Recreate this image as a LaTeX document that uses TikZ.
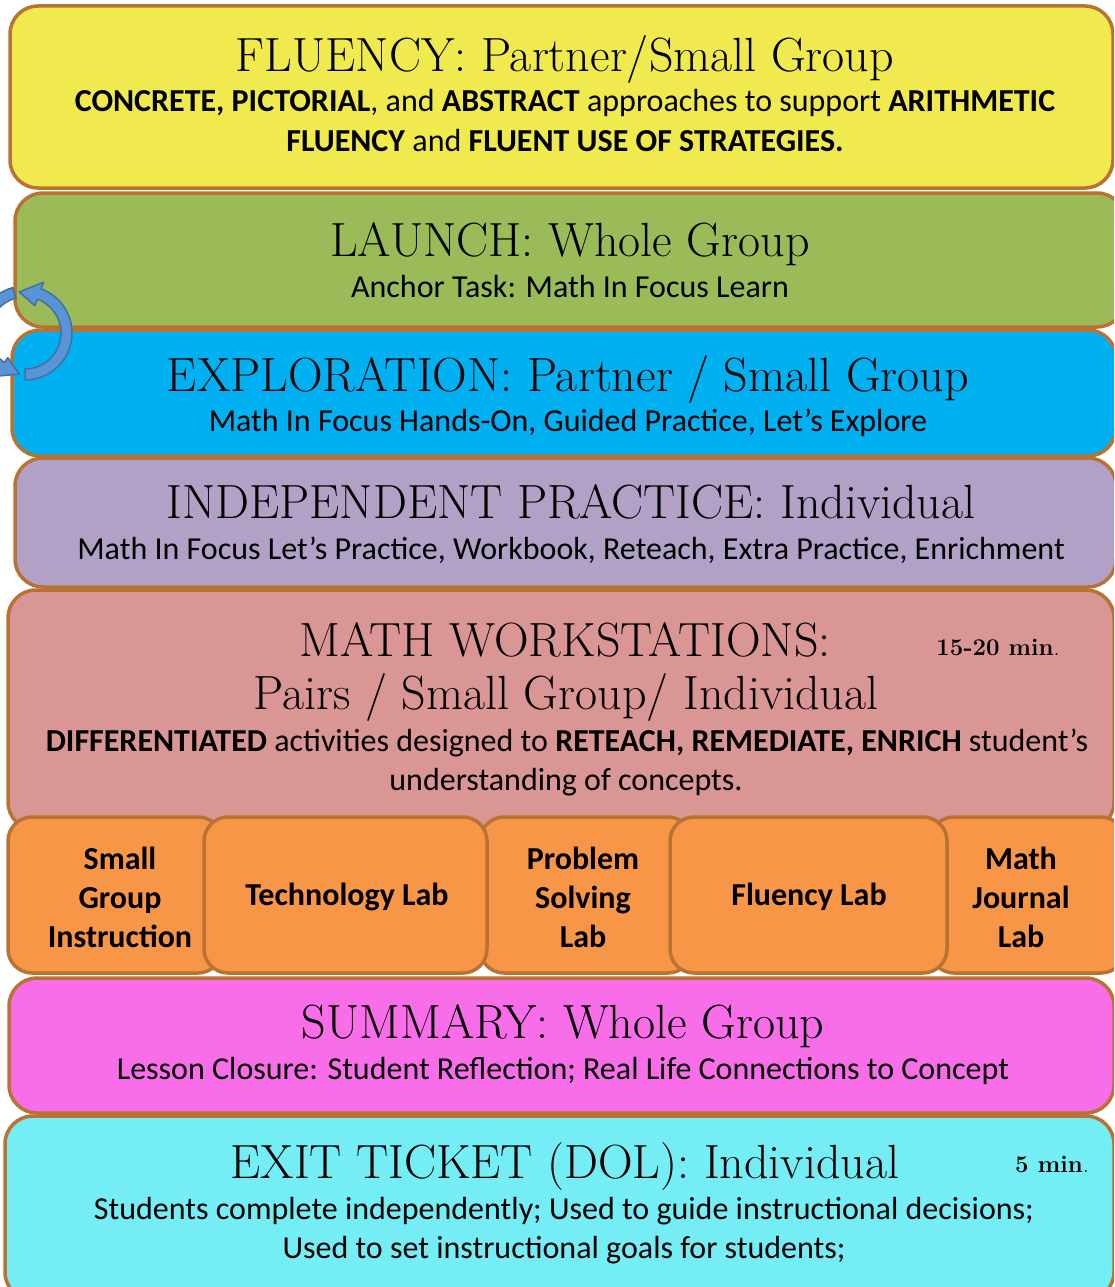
\documentclass[tikz,border=0pt]{standalone}
\usepackage{fontspec}
\newfontfamily\calibri{Carlito}
\usetikzlibrary{calc}
\definecolor{yel}{HTML}{F0EA4E}
\definecolor{grn}{HTML}{9BBB59}
\definecolor{blu}{HTML}{00B0F0}
\definecolor{pur}{HTML}{B2A1C7}
\definecolor{pnk}{HTML}{DA9694}
\definecolor{org}{HTML}{F79646}
\definecolor{mag}{HTML}{F86EE8}
\definecolor{cyn}{HTML}{75EDF5}
\definecolor{brd}{HTML}{B87333}
\definecolor{arrfill}{HTML}{5A93D6}
\definecolor{arrline}{HTML}{41719F}
\begin{document}
\begin{tikzpicture}[x=1pt,y=-1pt,
  box/.style={draw=brd, line width=3.5pt, rounded corners=28pt, inner sep=0pt},
  labbox/.style={draw=brd, line width=3.5pt, rounded corners=24pt, inner sep=0pt, fill=org, minimum height=156pt},
  ttl/.style={anchor=base, inner sep=0pt, font=\fontsize{48}{54}\selectfont},
  txt/.style={anchor=base, inner sep=0pt, font=\calibri\fontsize{32}{39}\selectfont},
  lab/.style={anchor=center, inner sep=0pt, align=center, font=\calibri\bfseries\fontsize{32}{39}\selectfont},
  mins/.style={anchor=base, inner sep=0pt, font=\bfseries\fontsize{24}{28}\selectfont},
  arr/.style={fill=arrfill, draw=arrline, line width=1.5pt, line join=round}]
\useasboundingbox (0,0) rectangle (1114,1287);
\clip (0,0) rectangle (1114,1287);

% main bands
\node[box, fill=yel, minimum width=1103pt, minimum height=182pt] (fluency) at (561.5,97) {};
\node[box, fill=grn, minimum width=1110pt, minimum height=134pt] (launch) at (570,260) {};
\node[box, fill=blu, minimum width=1104pt, minimum height=126pt] (explore) at (564,393) {};
\node[box, fill=pur, minimum width=1101pt, minimum height=129pt] (indep) at (565.5,522.5) {};
\node[box, fill=pnk, minimum width=1106pt, minimum height=240pt] (work) at (561,710) {};

% workstation labs
\node[labbox, minimum width=214pt] (sgi) at (115,895) {};
\node[labbox, minimum width=212pt] (psl) at (586,895) {};
\node[labbox, minimum width=195pt] (mjl) at (1027.5,895) {};
\node[labbox, minimum width=283pt] (tech) at (345.5,895) {};
\node[labbox, minimum width=277pt] (flab) at (808.5,895) {};

\node[box, fill=mag, minimum width=1105pt, minimum height=135pt] (summary) at (561.5,1045.5) {};
\node[box, fill=cyn, minimum width=1109pt, minimum height=184pt] (exit) at (559.5,1208) {};

% texts
\node[ttl] (t1) at (565,72) {FLUENCY: Partner/Small Group};
\node[txt] (t1a) at (565,112) {\textbf{CONCRETE, PICTORIAL}, and \textbf{ABSTRACT} approaches to support \textbf{ARITHMETIC}};
\node[txt] (t1b) at (565,151) {\textbf{FLUENCY} and \textbf{FLUENT USE OF STRATEGIES.}};

\node[ttl] (t2) at (570,256) {LAUNCH: Whole Group};
\node[txt] (t2a) at (570,297) {Anchor Task: Math In Focus Learn};

\node[ttl] (t3) at (568,391) {EXPLORATION: Partner / Small Group};
\node[txt] (t3a) at (568,431) {Math In Focus Hands-On, Guided Practice, Let’s Explore};

\node[ttl] (t4) at (571,518) {INDEPENDENT PRACTICE: Individual};
\node[txt] (t4a) at (571,559) {Math In Focus Let’s Practice, Workbook, Reteach, Extra Practice, Enrichment};

\node[ttl] (t5) at (565,656) {MATH WORKSTATIONS:};
\node[mins] (t5m) at (998,655) {15-20 min\textmd{.}};
\node[ttl] (t5b) at (566,709) {Pairs / Small Group/ Individual};
\node[txt] (t5c) at (567,751) {\textbf{DIFFERENTIATED} activities designed to \textbf{RETEACH, REMEDIATE, ENRICH} student’s};
\node[txt] (t5d) at (566,790) {understanding of concepts.};

\node[lab] (l1) at (120,897) {Small\\Group\\Instruction};
\node[lab] (l2) at (347,897) {Technology Lab};
\node[lab] (l3) at (583,897) {Problem\\Solving\\Lab};
\node[lab] (l4) at (809,897) {Fluency Lab};
\node[lab] (l5) at (1021,897) {Math\\Journal\\Lab};

\node[ttl] (t6) at (563,1038) {SUMMARY: Whole Group};
\node[txt] (t6a) at (563,1079) {Lesson Closure: Student Reflection; Real Life Connections to Concept};

\node[ttl] (t7) at (565,1178) {EXIT TICKET (DOL): Individual};
\node[mins] (t7m) at (1052,1172) {5 min\textmd{.}};
\node[txt] (t7a) at (564,1219) {Students complete independently; Used to guide instructional decisions;};
\node[txt] (t7b) at (564,1258) {Used to set instructional goals for students;};

% curved cycle arrows
\coordinate (C) at (25,333);
\filldraw[arr] ($(C)+(-105:47)$) arc[start angle=-105, end angle=-235, radius=47]
  -- ($(C)+(-235:53)$) -- ($(C)+(-262:41.5)$) -- ($(C)+(-235:30)$) -- ($(C)+(-235:36)$)
  arc[start angle=-235, end angle=-105, radius=36] -- cycle;
\filldraw[arr] ($(C)+(90:47)$) arc[start angle=90, end angle=-70, radius=47]
  -- ($(C)+(-70:54)$) -- ($(C)+(-98:41.5)$) -- ($(C)+(-70:29)$) -- ($(C)+(-70:36)$)
  arc[start angle=-70, end angle=90, radius=36] -- cycle;
\end{tikzpicture}
\end{document}
